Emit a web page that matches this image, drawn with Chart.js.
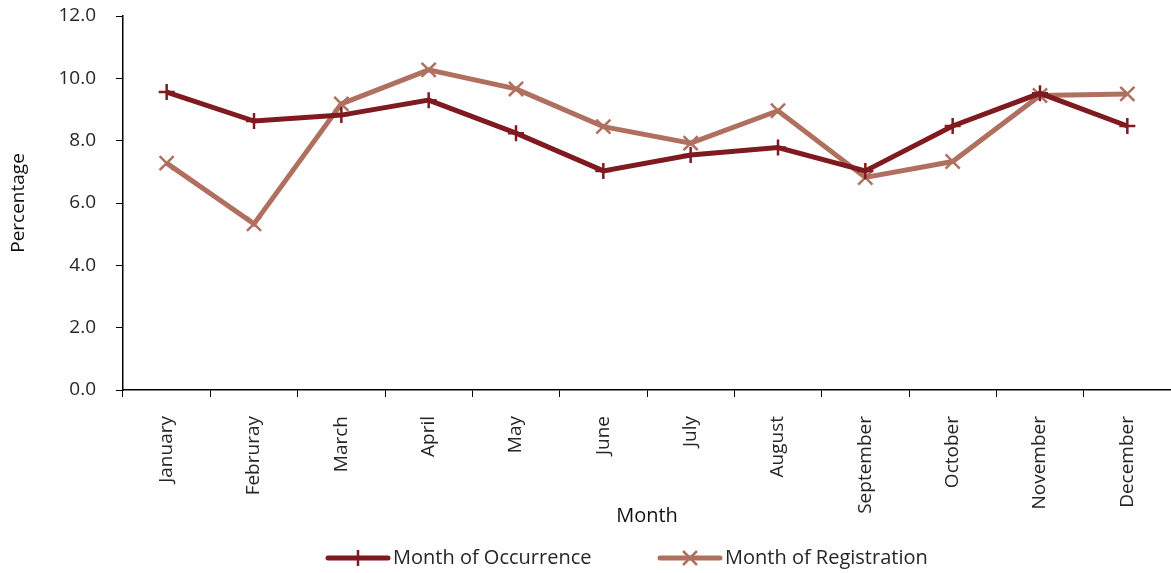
<!DOCTYPE html>
<html>
<head>
<meta charset="utf-8">
<script src="https://cdn.jsdelivr.net/npm/chart.js@4/dist/chart.umd.min.js"></script>
<style>
  html, body { margin: 0; padding: 0; background: #fff; }
  #wrap { width: 1171px; height: 573px; }
</style>
</head>
<body>
<div id="wrap"><canvas id="grafica" width="1171" height="573"></canvas></div>
<script>
// Categorías del eje X
const meses = ['January', 'Februray', 'March', 'April', 'May', 'June', 'July', 'August', 'September', 'October', 'November', 'December'];

// Porcentaje por mes de ocurrencia
const ocurrencia = [9.56, 8.63, 8.82, 9.30, 8.24, 7.03, 7.54, 7.78, 7.03, 8.47, 9.52, 8.47];

// Porcentaje por mes de registro
const registro = [7.28, 5.33, 9.18, 10.27, 9.66, 8.45, 7.92, 8.96, 6.82, 7.33, 9.45, 9.50];

// Marcas del eje Y
const marcasY = [0, 2, 4, 6, 8, 10, 12];

const colorOcurrencia = '#7f1a20';
const colorRegistro = '#b07060';
const colorTexto = '#262626';
const fuente = "'Open Sans', sans-serif";

// Leyenda dibujada a mano (línea con marcador)
const leyendaPlugin = {
    id: 'leyendaLinea',
    afterDraw(chart) {
        const ctx = chart.ctx;
        const items = [
            { x: 328, texto: 'Month of Occurrence', color: colorOcurrencia, marca: 'cross' },
            { x: 660, texto: 'Month of Registration', color: colorRegistro, marca: 'crossRot' }
        ];
        const y = 558;
        ctx.save();
        items.forEach(it => {
            ctx.strokeStyle = it.color;
            ctx.lineCap = 'round';
            ctx.lineWidth = 5;
            ctx.beginPath();
            ctx.moveTo(it.x, y);
            ctx.lineTo(it.x + 60, y);
            ctx.stroke();
            // marcador
            const cx = it.x + 30;
            ctx.lineWidth = 2.5;
            ctx.lineCap = 'butt';
            ctx.beginPath();
            if (it.marca === 'cross') {
                ctx.moveTo(cx - 8, y); ctx.lineTo(cx + 8, y);
                ctx.moveTo(cx, y - 8); ctx.lineTo(cx, y + 8);
            } else {
                ctx.moveTo(cx - 7, y - 7); ctx.lineTo(cx + 7, y + 7);
                ctx.moveTo(cx - 7, y + 7); ctx.lineTo(cx + 7, y - 7);
            }
            ctx.stroke();
            ctx.fillStyle = colorTexto;
            ctx.font = '20px ' + fuente;
            ctx.textBaseline = 'middle';
            ctx.textAlign = 'left';
            ctx.fillText(it.texto, it.x + 65, y);
        });
        ctx.restore();
    }
};

new Chart(document.getElementById('grafica').getContext('2d'), {
    type: 'line',
    data: {
        labels: meses,
        datasets: [
            {
                label: 'Month of Occurrence',
                data: ocurrencia,
                borderColor: colorOcurrencia,
                backgroundColor: colorOcurrencia,
                borderWidth: 5,
                tension: 0,
                pointStyle: 'cross',
                pointRadius: 8,
                pointBorderWidth: 2.5,
                pointBorderColor: colorOcurrencia
            },
            {
                label: 'Month of Registration',
                data: registro,
                borderColor: colorRegistro,
                backgroundColor: colorRegistro,
                borderWidth: 5,
                tension: 0,
                pointStyle: 'crossRot',
                pointRadius: 10,
                pointBorderWidth: 2.5,
                pointBorderColor: colorRegistro
            }
        ]
    },
    options: {
        responsive: false,
        animation: false,
        layout: { autoPadding: false, padding: { top: 16, right: 0, bottom: 0, left: 0 } },
        plugins: {
            legend: { display: false },
            tooltip: { enabled: false }
        },
        scales: {
            x: {
                offset: true,
                afterFit: s => { s.height = 183; s.paddingLeft = 0; s.paddingRight = 0; },
                grid: { offset: true, drawOnChartArea: false, drawTicks: true, tickLength: 7, color: '#000', lineWidth: 1 },
                border: { color: '#000', width: 1.5 },
                ticks: {
                    color: colorTexto,
                    font: { family: fuente, size: 19 },
                    minRotation: 90,
                    maxRotation: 90,
                    padding: 19,
                    autoSkip: false
                },
                title: {
                    display: true,
                    text: 'Month',
                    color: '#111',
                    font: { family: fuente, size: 20 },
                    padding: { top: 0, bottom: 45 }
                }
            },
            y: {
                min: 0,
                max: 12,
                afterFit: s => { s.width = 123; s.paddingTop = 0; s.paddingBottom = 0; },
                afterBuildTicks: s => { s.ticks = marcasY.map(v => ({ value: v })); },
                grid: { drawOnChartArea: false, drawTicks: true, tickLength: 7, color: '#000', lineWidth: 1 },
                border: { color: '#000', width: 1.5 },
                ticks: {
                    color: colorTexto,
                    font: { family: fuente, size: 19 },
                    padding: 20,
                    callback: v => Number(v).toFixed(1)
                },
                title: {
                    display: true,
                    text: 'Percentage',
                    color: '#111',
                    font: { family: fuente, size: 19 },
                    padding: { top: 7, bottom: 0 }
                }
            }
        }
    },
    plugins: [leyendaPlugin]
});
</script>
</body>
</html>
